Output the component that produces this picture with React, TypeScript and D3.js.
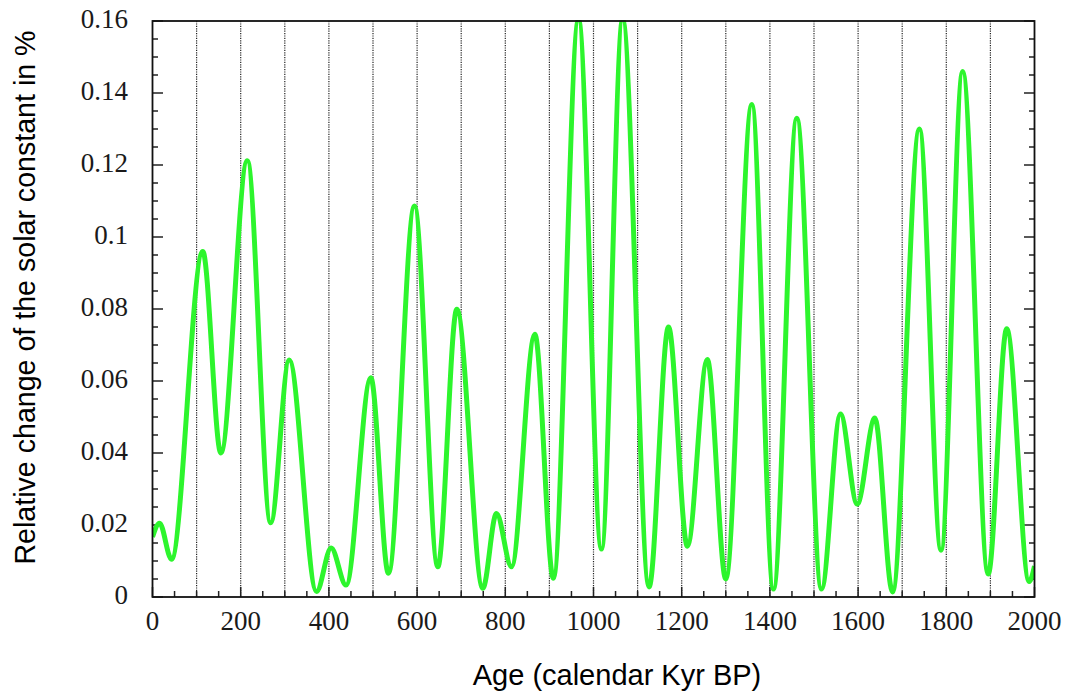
import React from "react";
import * as d3 from "d3";

// Age (calendar Kyr BP) at turning points of the curve
const ages = [0, 16, 43, 114, 155, 215, 268, 310, 372, 405, 439, 495, 535, 594, 647, 690, 749, 780, 814, 867, 909, 966, 1018, 1066, 1126, 1170, 1213, 1258, 1300, 1359, 1408, 1461, 1517, 1560, 1598, 1638, 1678, 1739, 1788, 1837, 1895, 1937, 1988, 2000];
// Relative change of the solar constant in %
const values = [0.0167, 0.0205, 0.0105, 0.096, 0.04, 0.1212, 0.0206, 0.0658, 0.0015, 0.0136, 0.0033, 0.0609, 0.0066, 0.1086, 0.0084, 0.0799, 0.0024, 0.0232, 0.0084, 0.073, 0.0052, 0.1605, 0.0133, 0.1605, 0.0028, 0.075, 0.0141, 0.066, 0.005, 0.1368, 0.0022, 0.133, 0.0022, 0.0508, 0.0258, 0.0497, 0.0014, 0.13, 0.013, 0.146, 0.0064, 0.0745, 0.0043, 0.0086];

const xTickLabels = [0, 200, 400, 600, 800, 1000, 1200, 1400, 1600, 1800, 2000];
const yTickLabels = ["0", "0.02", "0.04", "0.06", "0.08", "0.1", "0.12", "0.14", "0.16"];
const gridAges = [100, 200, 300, 400, 500, 600, 700, 800, 900, 1000, 1100, 1200, 1300, 1400, 1500, 1600, 1700, 1800, 1900];

const W = 1070;
const H = 695;
const L = 152.5, R = 1034.5, T = 21, B = 597;

export default function App() {
  const x = d3.scaleLinear().domain([0, 2000]).range([L, R]);
  const y = d3.scaleLinear().domain([0, 0.16]).range([B, T]);
  const pts: [number, number][] = ages.map((a, i) => [a, values[i]]);
  const line = d3
    .line<[number, number]>()
    .x((d) => x(d[0]))
    .y((d) => y(d[1]))
    .curve(d3.curveMonotoneX);

  const xMinor = d3.range(0, 2001, 50);
  const yMinor = d3.range(0, 0.1601, 0.005);

  return (
    <svg
      width={W}
      height={H}
      style={{ position: "absolute", left: 0, top: 0, background: "#fff" }}
    >
      <defs>
        <clipPath id="plotclip">
          <rect x={L} y={T - 1} width={R - L} height={B - T + 2} />
        </clipPath>
      </defs>
      <rect x={0} y={0} width={W} height={H} fill="#fff" />
      {gridAges.map((a) => (
        <line
          key={"g" + a}
          x1={x(a)}
          x2={x(a)}
          y1={T}
          y2={B}
          stroke="#222"
          strokeWidth={1.2}
          strokeDasharray="1.2,1.2"
        />
      ))}
      {/* bottom ticks */}
      {xMinor.map((a) => {
        const major = a % 200 === 0;
        return (
          <line
            key={"xt" + a}
            x1={x(a)}
            x2={x(a)}
            y1={B}
            y2={B - (major ? 10 : 6)}
            stroke="#222"
            strokeWidth={1.5}
          />
        );
      })}
      {/* left / right ticks */}
      {yMinor.map((v, i) => {
        const major = i % 4 === 0;
        const len = major ? 10.5 : 5.5;
        return (
          <g key={"yt" + i}>
            <line x1={L} x2={L + len} y1={y(v)} y2={y(v)} stroke="#222" strokeWidth={1.5} />
            <line x1={R} x2={R - len} y1={y(v)} y2={y(v)} stroke="#222" strokeWidth={1.5} />
          </g>
        );
      })}
      <path
        d={line(pts) || ""}
        fill="none"
        stroke="#2df52d"
        strokeWidth={5}
        strokeLinejoin="round"
        clipPath="url(#plotclip)"
      />
      <rect x={L} y={T} width={R - L} height={B - T} fill="none" stroke="#111" strokeWidth={1.8} />
      {xTickLabels.map((a) => (
        <text
          key={"xl" + a}
          x={x(a)}
          y={630}
          textAnchor="middle"
          fontFamily="'Liberation Serif', 'Times New Roman', serif"
          fontSize={27}
          fill="#1a1a1a"
        >
          {a}
        </text>
      ))}
      {yTickLabels.map((t, i) => (
        <text
          key={"yl" + t}
          x={128}
          y={y(i * 0.02) + 6.5}
          textAnchor="end"
          fontFamily="'Liberation Serif', 'Times New Roman', serif"
          fontSize={27}
          fill="#1a1a1a"
        >
          {t}
        </text>
      ))}
      <text
        x={617}
        y={685}
        textAnchor="middle"
        fontFamily="'Liberation Sans', Arial, sans-serif"
        fontSize={29}
        fill="#000"
      >
        Age (calendar Kyr BP)
      </text>
      <text
        transform="translate(35,297.5) rotate(-90)"
        textAnchor="middle"
        fontFamily="'Liberation Sans', Arial, sans-serif"
        fontSize={28.6}
        fill="#000"
      >
        Relative change of the solar constant in %
      </text>
    </svg>
  );
}
